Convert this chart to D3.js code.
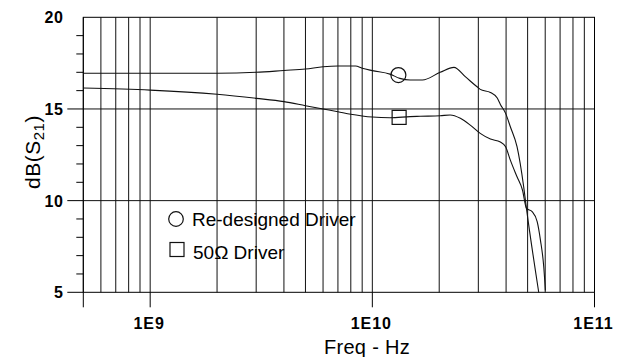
<!DOCTYPE html>
<html>
<head>
<meta charset="utf-8">
<script src="https://cdn.jsdelivr.net/npm/d3@7"></script>
<style>
  body { margin: 0; background: #fff; }
  svg { display: block; font-family: "Liberation Sans", Arial, sans-serif; }
</style>
</head>
<body>
<div id="chart"></div>
<script>
// =======================
// dB(S21) vs frequency, two driver designs
// =======================

// Re-designed driver
const freqRedesign = [5e8, 1e9, 2e9, 3e9, 4e9, 5e9, 6e9, 7e9, 8.4e9, 9e9, 1e10, 1.2e10, 1.33e10,
  1.48e10, 1.68e10, 2.02e10, 2.33e10, 2.62e10, 2.96e10, 3.06e10, 3.4e10, 3.65e10, 3.77e10,
  3.98e10, 4.18e10, 4.48e10, 4.8e10, 4.94e10, 5.61e10];
const dbRedesign = [16.95, 16.95, 16.95, 17.0, 17.1, 17.18, 17.3, 17.34, 17.34, 17.22, 17.09, 16.9, 16.67,
  16.58, 16.58, 17.0, 17.27, 16.76, 16.21, 16.07, 15.9, 15.6, 15.25,
  14.76, 14.03, 12.94, 10.76, 9.58, 5.0];

// 50 ohm driver
const freq50 = [5e8, 1e9, 2e9, 3e9, 4e9, 5e9, 6e9, 7e9, 8e9, 9e9, 1e10, 1.2e10, 1.48e10, 1.64e10,
  2.02e10, 2.24e10, 2.49e10, 2.76e10, 3.06e10, 3.4e10, 3.77e10, 3.98e10, 4.18e10, 4.48e10,
  4.74e10, 4.94e10, 5.24e10, 5.52e10, 5.71e10, 5.91e10, 6.01e10];
const db50 = [16.14, 16.03, 15.8, 15.58, 15.4, 15.18, 15.0, 14.85, 14.71, 14.62, 14.56, 14.52, 14.58, 14.6,
  14.63, 14.67, 14.49, 14.12, 13.67, 13.36, 13.2, 12.94, 12.21, 11.3,
  10.58, 9.58, 9.4, 8.85, 7.85, 6.39, 5.1];

// symbol markers placed on the curves
const markerFreq = [1.31e10, 1.32e10];
const markerDb = [16.85, 14.54];

// axis ticks / labels
const xMajor = [5e8, 1e9, 1e10, 1e11];
const xLabelVals = [1e9, 1e10, 1e11];
const xLabels = ["1E9", "1E10", "1E11"];
const yLabelVals = [5, 10, 15, 20];
const yGridVals = [10, 15];
const legendLabels = ["Re-designed Driver", "50\u03A9 Driver"];

const width = 620, height = 357;

const svg = d3.select("#chart").append("svg")
  .attr("width", width)
  .attr("height", height);

const x = d3.scaleLog().domain([5e8, 1e11]).range([83.3, 594.5]);
const y = d3.scaleLinear().domain([5, 20]).range([292.3, 17.3]);

// vertical grid: every log minor tick
svg.append("g")
  .selectAll("line")
  .data(x.ticks())
  .enter().append("line")
    .attr("x1", d => x(d)).attr("x2", d => x(d))
    .attr("y1", y(20)).attr("y2", y(5))
    .attr("stroke", "#111")
    .attr("stroke-width", 1);

// horizontal grid
svg.append("g")
  .selectAll("line")
  .data(yGridVals)
  .enter().append("line")
    .attr("x1", x(5e8)).attr("x2", x(1e11))
    .attr("y1", d => y(d)).attr("y2", d => y(d))
    .attr("stroke", "#111");

// frame
svg.append("rect")
  .attr("x", x(5e8)).attr("y", y(20))
  .attr("width", x(1e11) - x(5e8))
  .attr("height", y(5) - y(20))
  .attr("fill", "none")
  .attr("stroke", "#000");

// left ticks
svg.append("g")
  .selectAll("line")
  .data(d3.range(5, 20))
  .enter().append("line")
    .attr("x1", d => d % 5 === 0 ? x(5e8) - 16 : x(5e8) - 7)
    .attr("x2", x(5e8))
    .attr("y1", d => y(d)).attr("y2", d => y(d))
    .attr("stroke", "#000");

// bottom major ticks
svg.append("g")
  .selectAll("line")
  .data(xMajor)
  .enter().append("line")
    .attr("x1", d => x(d)).attr("x2", d => x(d))
    .attr("y1", y(5)).attr("y2", y(5) + 15)
    .attr("stroke", "#000");

// y labels
svg.append("g")
  .selectAll("text")
  .data(yLabelVals)
  .enter().append("text")
    .attr("x", x(5e8) - 20)
    .attr("y", d => y(d))
    .attr("dy", "0.37em")
    .attr("text-anchor", "end")
    .style("font-size", "16px")
    .style("font-weight", "bold")
    .style("letter-spacing", "0.5px")
    .text(d => d);

// x labels
svg.append("g")
  .selectAll("text")
  .data(xLabelVals)
  .enter().append("text")
    .attr("x", (d, i) => x(d) - 1)
    .attr("y", 328.5)
    .attr("text-anchor", "middle")
    .style("font-size", "16px")
    .style("font-weight", "bold")
    .style("letter-spacing", "1px")
    .text((d, i) => xLabels[i]);

// axis titles
svg.append("text")
  .attr("x", 367)
  .attr("y", 353.5)
  .attr("text-anchor", "middle")
  .style("font-size", "20px")
  .style("letter-spacing", "0.3px")
  .text("Freq - Hz");

const yTitle = svg.append("text")
  .attr("transform", "translate(40,152) rotate(-90)")
  .attr("text-anchor", "middle")
  .style("font-size", "21px")
  .style("letter-spacing", "0.5px");
yTitle.append("tspan").text("dB(S");
yTitle.append("tspan").attr("dy", 4).style("font-size", "15px").text("21");
yTitle.append("tspan").attr("dy", -4).text(")");

// curves
const line = d3.line()
  .x(d => x(d[0]))
  .y(d => y(d[1]))
  .curve(d3.curveMonotoneX);

[[freqRedesign, dbRedesign], [freq50, db50]].forEach(([f, v]) => {
  svg.append("path")
    .datum(d3.zip(f, v))
    .attr("d", line)
    .attr("fill", "none")
    .attr("stroke", "#111")
    .attr("stroke-width", 1.1);
});

// markers on curves
svg.append("circle")
  .attr("cx", x(markerFreq[0])).attr("cy", y(markerDb[0]))
  .attr("r", 7.5)
  .attr("fill", "none").attr("stroke", "#111").attr("stroke-width", 1.2);
svg.append("rect")
  .attr("x", x(markerFreq[1]) - 7).attr("y", y(markerDb[1]) - 7)
  .attr("width", 14).attr("height", 14)
  .attr("fill", "none").attr("stroke", "#111").attr("stroke-width", 1.2);

// legend
const legend = svg.append("g");
legend.append("circle")
  .attr("cx", 176).attr("cy", 219).attr("r", 7.3)
  .attr("fill", "none").attr("stroke", "#111").attr("stroke-width", 1.2);
legend.append("rect")
  .attr("x", 170).attr("y", 242.5).attr("width", 14).attr("height", 14)
  .attr("fill", "none").attr("stroke", "#111").attr("stroke-width", 1.2);
legend.selectAll("text")
  .data(legendLabels)
  .enter().append("text")
    .attr("x", (d, i) => i === 0 ? 192 : 193)
    .attr("y", (d, i) => i === 0 ? 225.7 : 259)
    .style("font-size", "19px")
    .text(d => d);
</script>
</body>
</html>
